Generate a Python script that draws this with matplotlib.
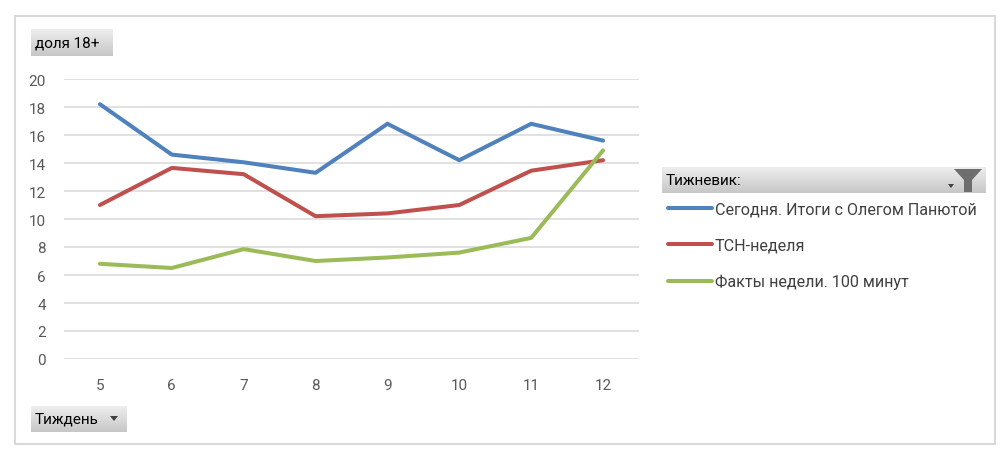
import numpy as np
import matplotlib
matplotlib.use("Agg")
import matplotlib.pyplot as plt
from matplotlib.patches import Rectangle, Polygon

plt.rcParams['font.family'] = ['Roboto', 'DejaVu Sans']

weeks = ['5', '6', '7', '8', '9', '10', '11', '12']
segodnya = [18.2, 14.6, 14.05, 13.3, 16.8, 14.2, 16.8, 15.6]
tsn = [11.0, 13.65, 13.2, 10.2, 10.4, 11.0, 13.45, 14.2]
fakty = [6.8, 6.5, 7.85, 7.0, 7.25, 7.6, 8.65, 14.9]

names = ['Сегодня. Итоги с Олегом Панютой', 'ТСН-неделя', 'Факты недели. 100 минут']
colors = ['#4F81BD', '#C0504D', '#9BBB59']

W, H = 1008, 456
fig = plt.figure(figsize=(W / 100, H / 100), dpi=100)


def fx(px):
    return px / W


def fy(py):
    return 1 - py / H


# outer frame
fig.patches.append(Rectangle((fx(15), fy(445)), fx(980), (445 - 17) / H,
                             transform=fig.transFigure, fill=False,
                             edgecolor='#d9d9d9', linewidth=1.5))

ax = fig.add_axes([fx(64), fy(360), fx(575), 280 / H])
x = np.arange(len(weeks))
for vals, name, c in zip([segodnya, tsn, fakty], names, colors):
    ax.plot(x, vals, color=c, linewidth=2.9, label=name, solid_capstyle='round')

ax.set_xlim(-0.5, len(weeks) - 0.5)
ax.set_ylim(0, 20)
ax.set_yticks(range(0, 21, 2))
ax.set_xticks(x)
ax.set_xticklabels(weeks)
ax.grid(axis='y', color='#d9d9d9', linewidth=1.1)
ax.set_axisbelow(True)
for s in ax.spines.values():
    s.set_visible(False)
ax.tick_params(length=0, labelsize=11, labelcolor='#595959')
ax.tick_params(axis='y', pad=13)
ax.tick_params(axis='x', pad=14)

leg = fig.legend(loc='upper left', bbox_to_anchor=(fx(668), fy(203)),
                 frameon=False, fontsize=11.6, handlelength=2.7,
                 handletextpad=0.2, labelspacing=1.3, borderaxespad=0,
                 borderpad=0)
for t in leg.get_texts():
    t.set_color('#404040')
for l in leg.get_lines():
    l.set_linewidth(2.9)


def button(x0, y0, x1, y1, text):
    bax = fig.add_axes([fx(x0), fy(y1), fx(x1 - x0), (y1 - y0) / H])
    grad = np.linspace(0.93, 0.78, 50).reshape(-1, 1)
    bax.imshow(grad, cmap='gray', vmin=0, vmax=1, aspect='auto',
               extent=[0, 1, 0, 1])
    bax.set_xlim(0, 1)
    bax.set_ylim(0, 1)
    bax.axis('off')
    fig.text(fx(x0 + 4), fy((y0 + y1) / 2), text, fontsize=11,
             va='center', ha='left', color='black')


button(31, 30, 113, 57, 'доля 18+')
button(31, 407, 127, 433, 'Тиждень')
button(662, 168, 985, 194, 'Тижневик:')

# dropdown arrow on the week button
fig.patches.append(Polygon([(fx(110), fy(417)), (fx(118), fy(417)), (fx(114), fy(422))],
                           closed=True, transform=fig.transFigure,
                           facecolor='#404040', edgecolor='none'))
# small arrow and funnel on the legend header
fig.patches.append(Polygon([(fx(948), fy(185)), (fx(954), fy(185)), (fx(951), fy(189))],
                           closed=True, transform=fig.transFigure,
                           facecolor='#404040', edgecolor='none'))
fig.patches.append(Polygon([(fx(954), fy(170)), (fx(982), fy(170)), (fx(972), fy(181)),
                            (fx(972), fy(193)), (fx(964), fy(193)), (fx(964), fy(181))],
                           closed=True, transform=fig.transFigure,
                           facecolor='#6e6e6e', edgecolor='none'))

fig.savefig('out.png', dpi=100)
